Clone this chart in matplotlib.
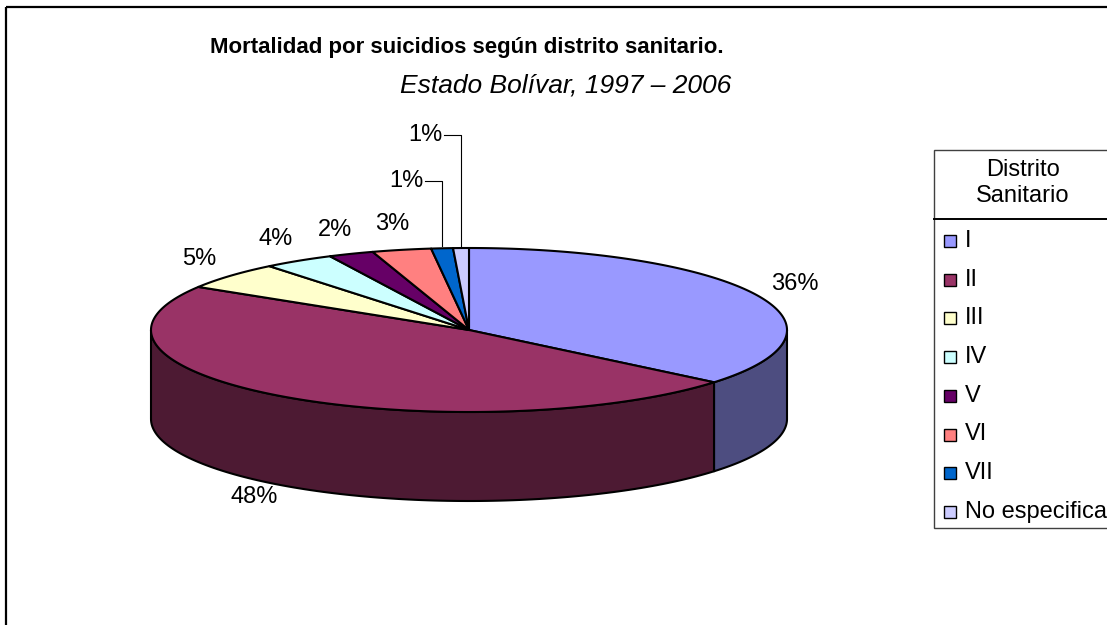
import matplotlib.pyplot as plt
import matplotlib.colors as mcolors
import numpy as np
from matplotlib.patches import Polygon, Rectangle

# datos
distritos = ['I', 'II', 'III', 'IV', 'V', 'VI', 'VII', 'No especifica']
porcentajes = [36.0, 47.8, 5.4, 3.6, 2.3, 3.0, 1.1, 0.8]
colores = ['#9999FF', '#993366', '#FFFFCC', '#CCFFFF', '#660066', '#FF8080', '#0066CC', '#CCCCFF']

titulo = 'Mortalidad por suicidios según distrito sanitario.'
subtitulo = 'Estado Bolívar, 1997 – 2006'
titulo_leyenda = 'Distrito\nSanitario'

plt.rcParams['font.family'] = ['Liberation Sans', 'DejaVu Sans']

fig = plt.figure(figsize=(11.07, 6.25), dpi=100)
ax = fig.add_axes([0, 0, 1, 1])
ax.set_xlim(0, 1107)
ax.set_ylim(625, 0)
ax.axis('off')

# marco del gráfico
ax.add_patch(Rectangle((6, 7), 1200, 700, fc='none', ec='black', lw=1.6))

# geometría de la torta 3D (pixeles)
cx, cy, rx, ry, prof = 469, 330, 318, 82, 89


def borde(t):
    # t en grados, sentido horario desde las 12
    r = np.radians(t)
    return cx + rx * np.sin(r), cy - ry * np.cos(r)


ang = np.cumsum([0] + porcentajes) / sum(porcentajes) * 360

# paredes (solo se ve la mitad delantera)
for i in range(len(porcentajes)):
    a0, a1 = max(ang[i], 90), min(ang[i + 1], 270)
    if a1 <= a0:
        continue
    t = np.linspace(a0, a1, 120)
    x, y = borde(t)
    xs = np.concatenate([x, x[::-1]])
    ys = np.concatenate([y, y[::-1] + prof])
    col = np.array(mcolors.to_rgb(colores[i])) * 0.5
    ax.add_patch(Polygon(np.column_stack([xs, ys]), fc=col, ec='black', lw=1.5, joinstyle='round'))

# tapa
for i in range(len(porcentajes)):
    t = np.linspace(ang[i], ang[i + 1], 200)
    x, y = borde(t)
    pts = np.column_stack([np.r_[cx, x], np.r_[cy, y]])
    ax.add_patch(Polygon(pts, fc=colores[i], ec='black', lw=1.5, joinstyle='round'))

# etiquetas de porcentaje
n_chicas = 0
for i, p in enumerate(porcentajes):
    mid = np.radians((ang[i] + ang[i + 1]) / 2)
    s, c = np.sin(mid), np.cos(mid)
    txt = f'{p:.0f}%'
    if p < 1.5:
        # porciones pequeñas: etiqueta arriba con línea guía
        mx = cx + rx * s
        ly = cy - ry - 67 - 46 * n_chicas
        n_chicas += 1
        ax.text(mx - 19, ly, txt, ha='right', va='center', fontsize=17)
        ax.plot([mx - 17, mx, mx], [ly, ly, cy - ry * np.cos(mid) - 2], color='black', lw=0.8)
    elif c < 0:
        ax.text(cx + (rx + 50) * s, cy - (ry + 14) * c + prof, txt, ha='center', va='center', fontsize=17)
    else:
        ax.text(cx + (rx + 42) * s, cy - (ry + 26) * c, txt, ha='center', va='center', fontsize=17)

# títulos
ax.text(467, 48, titulo, ha='center', va='center', fontsize=16, fontweight='bold')
ax.text(566, 86, subtitulo, ha='center', va='center', fontsize=19, style='italic')

# leyenda
ax.add_patch(Rectangle((934, 150), 250, 378, fc='white', ec='#404040', lw=1.0))
ax.plot([934, 1107], [219, 219], color='black', lw=1.4)
ax.text(1023, 183, titulo_leyenda, ha='center', va='center', fontsize=17, linespacing=1.25)
for i, (d, col) in enumerate(zip(distritos, colores)):
    yy = 241 + i * 38.7
    ax.add_patch(Rectangle((944, yy - 6), 12, 12, fc=col, ec='black', lw=1.0))
    ax.text(965, yy, d, ha='left', va='center', fontsize=17)

fig.savefig('out.png', dpi=100)
